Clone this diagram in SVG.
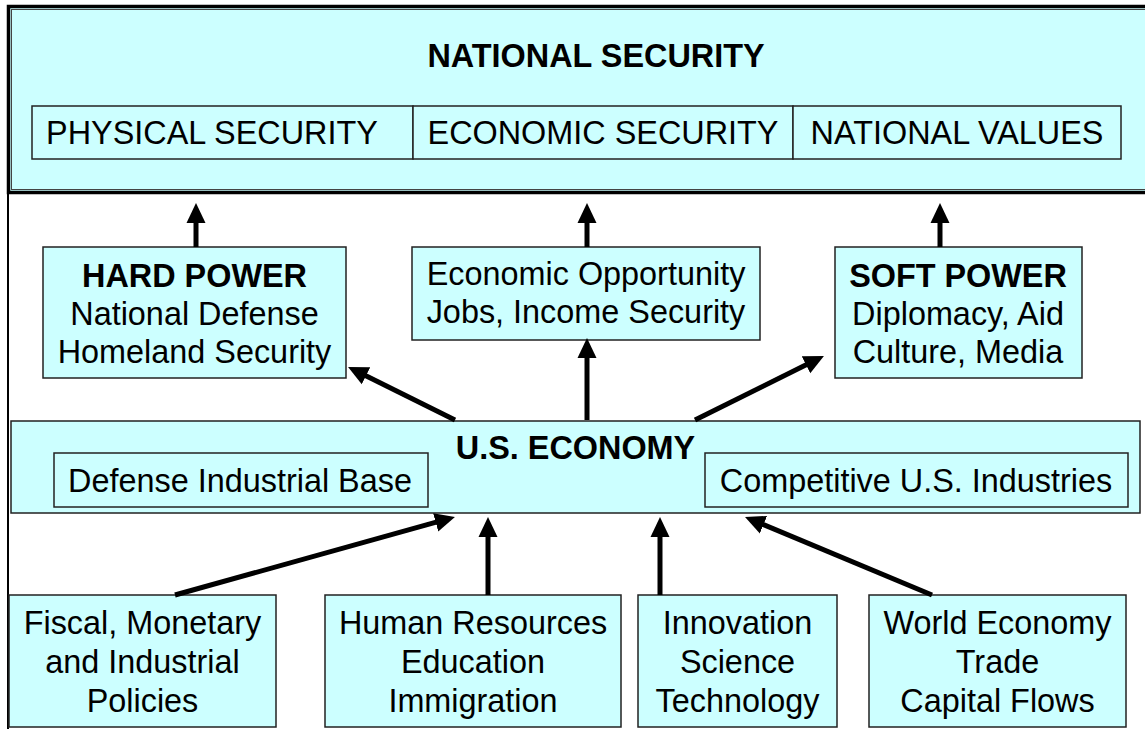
<svg xmlns="http://www.w3.org/2000/svg" width="1145" height="729" viewBox="0 0 1145 729">
<defs>
<style>
.box{fill:#CCFFFF;stroke:#222;stroke-width:1.5}
.t{font-family:"Liberation Sans",Arial,sans-serif;font-size:32.4px;fill:#000;text-anchor:middle}
.b{font-weight:bold}
.c{stroke:#000;stroke-width:5;fill:none}
</style>
<marker id="ah" markerUnits="userSpaceOnUse" markerWidth="20" markerHeight="20" viewBox="0 0 20 20" refX="8" refY="10" orient="auto">
<path d="M0,0.5 L20,10 L0,19.5 z" fill="#000"/>
</marker>
</defs>
<rect width="1145" height="729" fill="#fff"/>
<line x1="8" y1="190" x2="8" y2="729" stroke="#000" stroke-width="2"/>
<g id="national-security">
<rect x="8.5" y="6.5" width="1145" height="186" fill="#CCFFFF" stroke="#000" stroke-width="3.5"/>
<rect x="11.5" y="9.5" width="1140" height="180" fill="none" stroke="#444" stroke-width="1"/>
<text class="t b" x="596" y="67">NATIONAL SECURITY</text>
</g>
<g id="physical-security">
<rect class="box" x="32" y="106" width="381" height="53"/>
<text class="t" x="212" y="144">PHYSICAL SECURITY</text>
</g>
<g id="economic-security">
<rect class="box" x="413" y="106" width="380" height="53"/>
<text class="t" x="603" y="144">ECONOMIC SECURITY</text>
</g>
<g id="national-values">
<rect class="box" x="793" y="106" width="328" height="53"/>
<text class="t" x="957" y="144">NATIONAL VALUES</text>
</g>
<g id="hard-power">
<rect class="box" x="43" y="247" width="303" height="131"/>
<text class="t" x="194.5" y="287"><tspan class="b">HARD POWER</tspan><tspan x="194.5" dy="38">National Defense</tspan><tspan x="194.5" dy="38">Homeland Security</tspan></text>
</g>
<g id="economic-opportunity">
<rect class="box" x="412" y="247" width="348" height="93"/>
<text class="t" x="586" y="285">Economic Opportunity<tspan x="586" dy="38">Jobs, Income Security</tspan></text>
</g>
<g id="soft-power">
<rect class="box" x="835" y="247" width="247" height="131"/>
<text class="t" x="958" y="287"><tspan class="b">SOFT POWER</tspan><tspan x="958" dy="38">Diplomacy, Aid</tspan><tspan x="958" dy="38">Culture, Media</tspan></text>
</g>
<g id="us-economy">
<rect class="box" x="11" y="421" width="1129" height="92"/>
<text class="t b" x="575.5" y="459">U.S. ECONOMY</text>
</g>
<g id="defense-industrial-base">
<rect class="box" x="54" y="453" width="374" height="54"/>
<text class="t" x="240" y="492">Defense Industrial Base</text>
</g>
<g id="competitive-industries">
<rect class="box" x="705" y="453" width="423" height="54"/>
<text class="t" x="916" y="492">Competitive U.S. Industries</text>
</g>
<g id="fiscal">
<rect class="box" x="9" y="595" width="267" height="132"/>
<text class="t" x="142.5" y="634">Fiscal, Monetary<tspan x="142.5" dy="39">and Industrial</tspan><tspan x="142.5" dy="39">Policies</tspan></text>
</g>
<g id="human-resources">
<rect class="box" x="325" y="595" width="296" height="132"/>
<text class="t" x="473" y="634">Human Resources<tspan x="473" dy="39">Education</tspan><tspan x="473" dy="39">Immigration</tspan></text>
</g>
<g id="innovation">
<rect class="box" x="638" y="595" width="199" height="132"/>
<text class="t" x="737.5" y="634">Innovation<tspan x="737.5" dy="39">Science</tspan><tspan x="737.5" dy="39">Technology</tspan></text>
</g>
<g id="world-economy">
<rect class="box" x="869" y="595" width="257" height="132"/>
<text class="t" x="997.5" y="634">World Economy<tspan x="997.5" dy="39">Trade</tspan><tspan x="997.5" dy="39">Capital Flows</tspan></text>
</g>
<g id="connectors">
<line class="c" x1="196" y1="247" x2="196" y2="215" marker-end="url(#ah)"/>
<line class="c" x1="587" y1="247" x2="587" y2="215" marker-end="url(#ah)"/>
<line class="c" x1="940" y1="247" x2="940" y2="215" marker-end="url(#ah)"/>
<line class="c" x1="455" y1="420" x2="358.8" y2="372.3" marker-end="url(#ah)"/>
<line class="c" x1="587" y1="420" x2="587" y2="350" marker-end="url(#ah)"/>
<line class="c" x1="695" y1="420" x2="813.2" y2="361.3" marker-end="url(#ah)"/>
<line class="c" x1="175" y1="595" x2="443.4" y2="520.2" marker-end="url(#ah)"/>
<line class="c" x1="488" y1="595" x2="488" y2="529" marker-end="url(#ah)"/>
<line class="c" x1="660" y1="595" x2="660" y2="529" marker-end="url(#ah)"/>
<line class="c" x1="932" y1="595" x2="756.1" y2="521.6" marker-end="url(#ah)"/>
</g>
</svg>
